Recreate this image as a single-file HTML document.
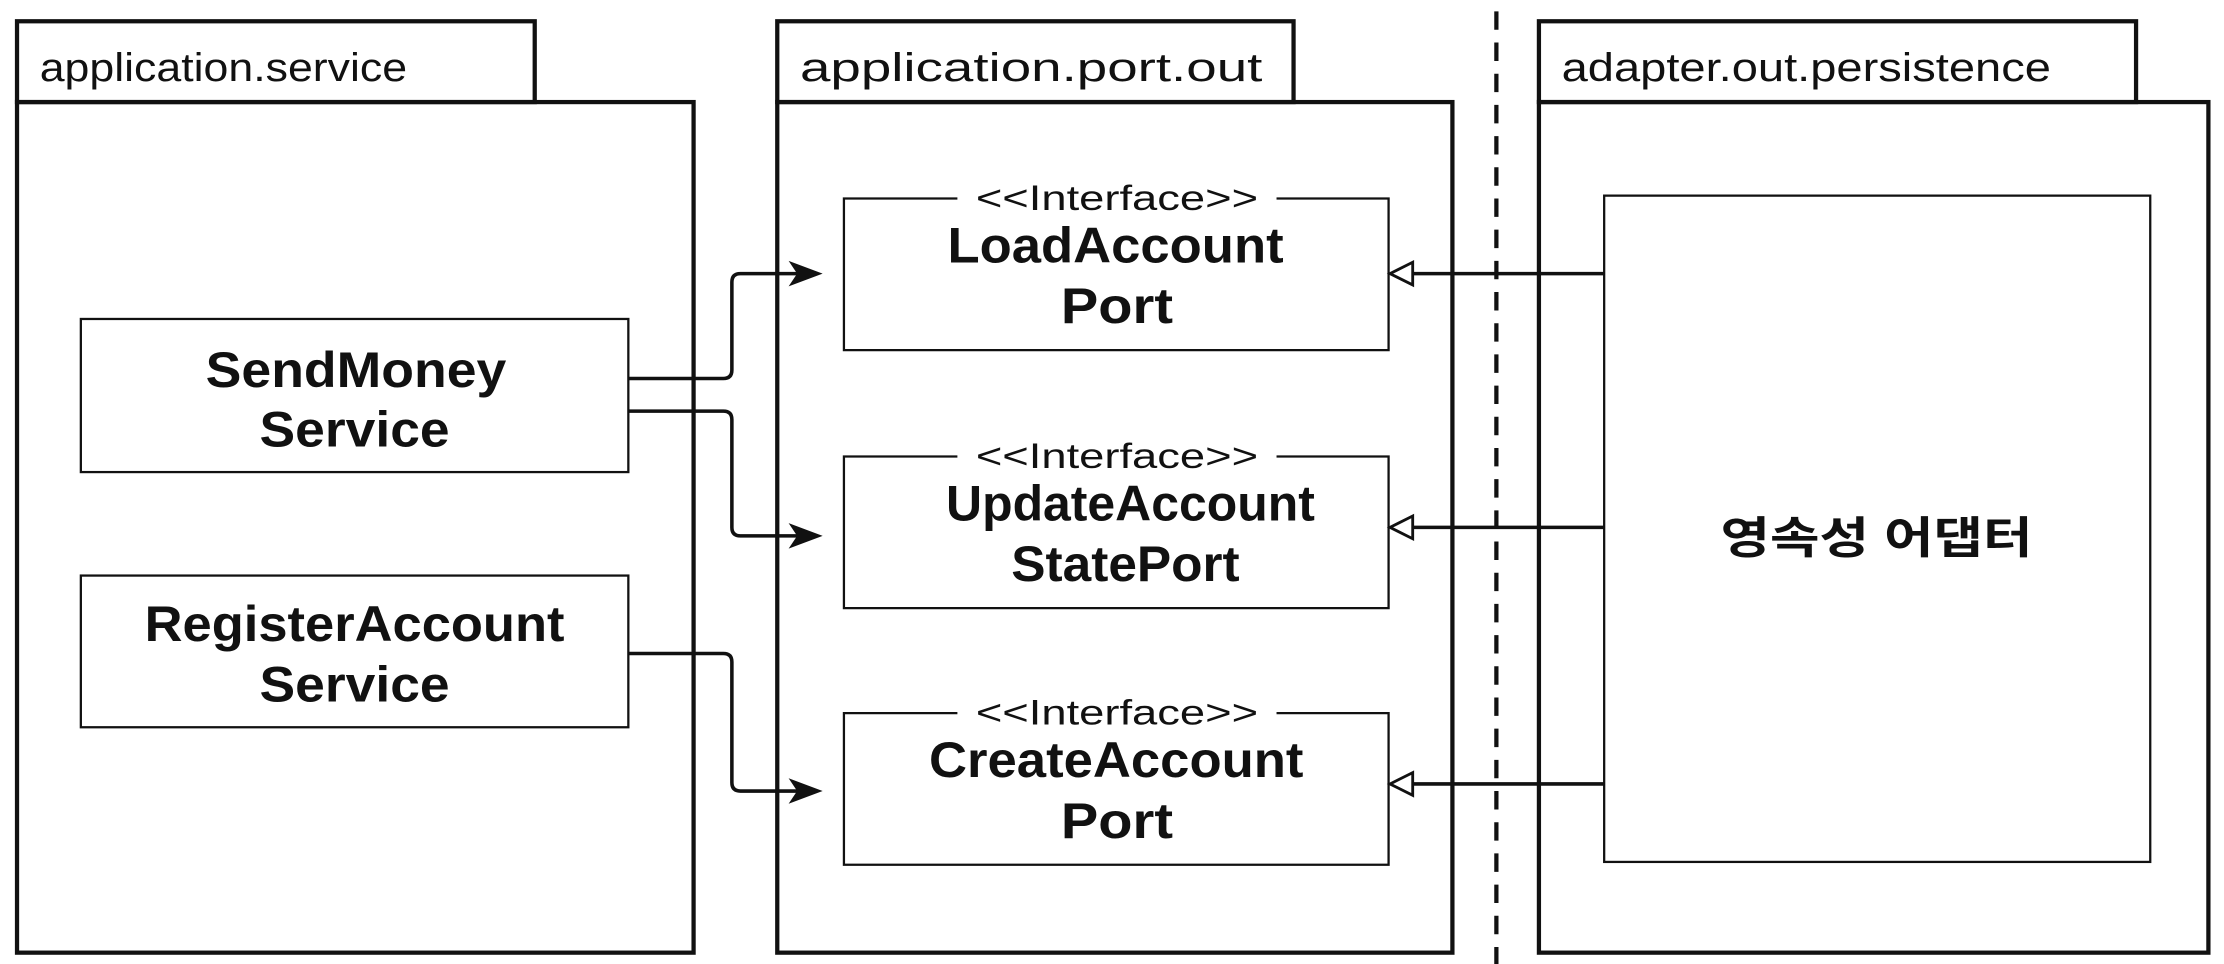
<!DOCTYPE html>
<html><head><meta charset="utf-8"><style>
html,body{margin:0;padding:0;background:#fff;}
svg{display:block;}
text{font-family:"Liberation Sans","Noto Sans CJK KR",sans-serif;fill:#111;}
.pk{font-size:28px;}
.st{font-size:25px;}
.nm{font-size:35px;font-weight:bold;}
</style></head><body>
<svg width="2224" height="964" viewBox="0 0 1568 680" preserveAspectRatio="none" xmlns="http://www.w3.org/2000/svg">
<rect width="1568" height="680" fill="#fff"/>
<g fill="none" stroke="#111" stroke-width="3">
<rect x="12" y="15" width="365" height="57"/>
<rect x="12" y="72" width="477" height="600"/>
<rect x="548" y="15" width="364" height="57"/>
<rect x="548" y="72" width="476" height="600"/>
<rect x="1085" y="15" width="421" height="57"/>
<rect x="1085" y="72" width="472" height="600"/>
</g>
<line x1="1055" y1="8" x2="1055" y2="680" stroke="#111" stroke-width="3" stroke-dasharray="13,9"/>
<g fill="none" stroke="#111" stroke-width="1.6">
<rect x="1131" y="138" width="385" height="470"/>
<rect x="57" y="225" width="386" height="108"/>
<rect x="57" y="406" width="386" height="107"/>
<path d="M675 140H595V247H979V140H900"/>
<path d="M675 322H595V429H979V322H900"/>
<path d="M675 503H595V610H979V503H900"/>
</g>
<g class="pk" lengthAdjust="spacingAndGlyphs">
<text x="28" y="57" textLength="259" lengthAdjust="spacingAndGlyphs">application.service</text>
<text x="564" y="57" textLength="326" lengthAdjust="spacingAndGlyphs">application.port.out</text>
<text x="1101" y="57" textLength="345" lengthAdjust="spacingAndGlyphs">adapter.out.persistence</text>
</g>
<g class="st">
<text x="688" y="148" textLength="199" lengthAdjust="spacingAndGlyphs">&lt;&lt;Interface&gt;&gt;</text>
<text x="688" y="330" textLength="199" lengthAdjust="spacingAndGlyphs">&lt;&lt;Interface&gt;&gt;</text>
<text x="688" y="511" textLength="199" lengthAdjust="spacingAndGlyphs">&lt;&lt;Interface&gt;&gt;</text>
</g>
<g class="nm">
<text x="668" y="185" textLength="237" lengthAdjust="spacingAndGlyphs">LoadAccount</text>
<text x="748" y="228" textLength="79" lengthAdjust="spacingAndGlyphs">Port</text>
<text x="667" y="367" textLength="260" lengthAdjust="spacingAndGlyphs">UpdateAccount</text>
<text x="713" y="410" textLength="161" lengthAdjust="spacingAndGlyphs">StatePort</text>
<text x="655" y="548" textLength="264" lengthAdjust="spacingAndGlyphs">CreateAccount</text>
<text x="748" y="591" textLength="79" lengthAdjust="spacingAndGlyphs">Port</text>
<text x="145" y="273" textLength="212" lengthAdjust="spacingAndGlyphs">SendMoney</text>
<text x="183" y="315" textLength="134" lengthAdjust="spacingAndGlyphs">Service</text>
<text x="102" y="452" textLength="296" lengthAdjust="spacingAndGlyphs">RegisterAccount</text>
<text x="183" y="495" textLength="134" lengthAdjust="spacingAndGlyphs">Service</text>
<text x="1213" y="390" style="font-size:31px" textLength="220" lengthAdjust="spacingAndGlyphs">영속성 어댑터</text>
</g>
<g fill="none" stroke="#111" stroke-width="2.5">
<path d="M443 267H510Q516 267 516 261V199Q516 193 522 193H566"/>
<path d="M443 290H510Q516 290 516 296V372Q516 378 522 378H566"/>
<path d="M443 461H510Q516 461 516 467V552Q516 558 522 558H566"/>
<path d="M1131 193H994"/>
<path d="M1131 372H994"/>
<path d="M1131 553H994"/>
</g>
<g fill="#111">
<path d="M580 193L556 184L562 193L556 202Z"/>
<path d="M580 378L556 369L562 378L556 387Z"/>
<path d="M580 558L556 549L562 558L556 567Z"/>
</g>
<g fill="#fff" stroke="#111" stroke-width="2">
<path d="M980 193L996 185V201Z"/>
<path d="M980 372L996 364V380Z"/>
<path d="M980 553L996 545V561Z"/>
</g>
</svg>
</body></html>
